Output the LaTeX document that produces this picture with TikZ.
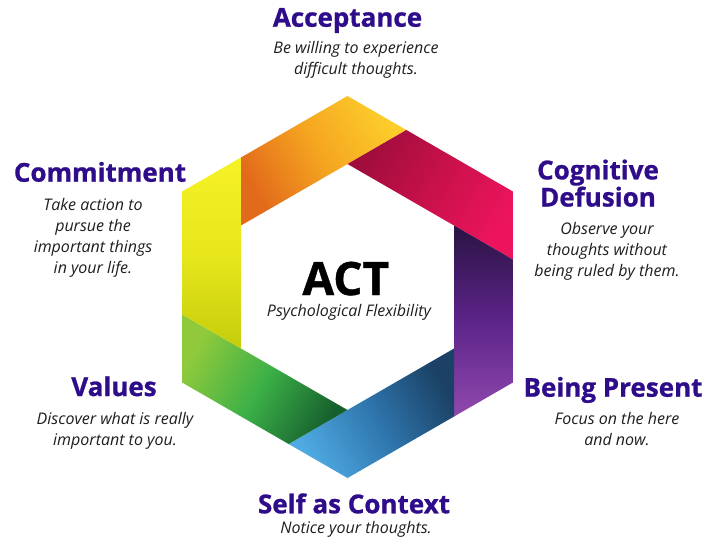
\documentclass[tikz,border=0pt]{standalone}
\usepackage{fontspec}
\setmainfont{Open Sans}
\newfontfamily\heavyfont{Open Sans}[BoldFeatures={FakeBold=0.9}]
\usetikzlibrary{calc}

\definecolor{headcol}{HTML}{2E0C8A}
\definecolor{desccol}{HTML}{1E1E1E}
% band colours: dark end, middle, light end
\definecolor{orD}{HTML}{E26A1B}\definecolor{orM}{HTML}{F5A520}\definecolor{orL}{HTML}{FCCD2B}
\definecolor{rdD}{HTML}{A00D3C}\definecolor{rdM}{HTML}{C9114A}\definecolor{rdL}{HTML}{EC145D}
\definecolor{puD}{HTML}{2A1343}\definecolor{puM}{HTML}{5C2489}\definecolor{puL}{HTML}{9049AE}
\definecolor{blD}{HTML}{1B4266}\definecolor{blM}{HTML}{2F76AE}\definecolor{blL}{HTML}{4FAAE2}
\definecolor{grD}{HTML}{16602E}\definecolor{grM}{HTML}{3CB047}\definecolor{grL}{HTML}{90CA3C}
\definecolor{yeD}{HTML}{C4CD0B}\definecolor{yeM}{HTML}{E8E71C}\definecolor{yeL}{HTML}{F5F125}

\tikzset{
  heading/.style={font=\heavyfont\bfseries\fontsize{26}{21.5}\selectfont, text=headcol,
    align=center, anchor=base, inner sep=0pt},
  desc/.style={font=\itshape\fontsize{16}{21}\selectfont, text=desccol,
    align=center, anchor=base, inner sep=0pt},
  % #1 dark end, #2 middle, #3 light end, #4 rotation of the light end from "up"
  band/.style n args={4}{top color=#3, bottom color=#1, middle color=#2,
    shading angle=#4},
}

\begin{document}
\begin{tikzpicture}[x=1pt,y=1pt]
  \useasboundingbox[fill=white] (0,0) rectangle (711,-544);

  % hexagon ring: outer and inner radius, common centre
  \def\Ro{191}
  \def\Ri{123}
  \coordinate (c) at (347.5,-287);
  \foreach \n/\a in {T/90, UR/30, LR/-30, B/-90, LL/-150, UL/150}{
    \coordinate (O\n) at ($(c)+(\a:\Ro)$);
    \coordinate (I\n) at ($(c)+(\a:\Ri)$);
    % each inner edge continued past its end vertex up to the outer rim
    \pgfmathsetmacro\d{\a-60}
    \coordinate (P\n) at ($(I\n)+(\d:\Ro-\Ri)$);
  }

  % six bands of the pinwheel, dark where they start, light where they end
  \shade[band={orD}{orM}{orL}{-60}]  (IUL) -- (IT)  -- (PT)  -- (OT)  -- (PUL) -- cycle;
  \shade[band={rdD}{rdM}{rdL}{-120}] (IT)  -- (IUR) -- (PUR) -- (OUR) -- (PT)  -- cycle;
  \shade[band={puD}{puM}{puL}{-180}] (IUR) -- (ILR) -- (PLR) -- (OLR) -- (PUR) -- cycle;
  \shade[band={blD}{blM}{blL}{120}]  (ILR) -- (IB)  -- (PB)  -- (OB)  -- (PLR) -- cycle;
  \shade[band={grD}{grM}{grL}{60}]   (IB)  -- (ILL) -- (PLL) -- (OLL) -- (PB)  -- cycle;
  \shade[band={yeD}{yeM}{yeL}{0}]    (ILL) -- (IUL) -- (PUL) -- (OUL) -- (PLL) -- cycle;

  % centre (multi-line nodes sit on the baseline of their last line)
  \node[font=\heavyfont\bfseries\fontsize{46}{46}\selectfont, anchor=base, inner sep=0pt]
    (act) at (345.8,-295) {ACT};
  \node[desc] (flex) at (349,-316.7) {Psychological Flexibility};

  % the six processes
  \node[heading] (acc)  at (347.5,-26.7) {Acceptance};
  \node[desc]    (accd) at (356,-74.5) {Be willing to experience\\difficult thoughts.};

  \node[heading] (cog)  at (598,-206.5) {Cognitive\\Defusion};
  \node[desc]    (cogd) at (607,-276) {Observe your\\thoughts without\\being ruled by them.};

  \node[heading] (pre)  at (613,-396.7) {Being Present};
  \node[desc]    (pred) at (617,-445.5) {Focus on the here\\and now.};

  \node[heading] (sac)  at (354,-513.3) {Self as Context};
  \node[desc]    (sacd) at (356,-533.3) {Notice your thoughts.};

  \node[heading] (val)  at (114,-396) {Values};
  \node[desc]    (vald) at (115,-445.5) {Discover what is really\\important to you.};

  \node[heading] (com)  at (100,-181.7) {Commitment};
  \node[desc]    (comd) at (93,-273.3) {Take action to\\pursue the\\important things\\in your life.};
\end{tikzpicture}
\end{document}
